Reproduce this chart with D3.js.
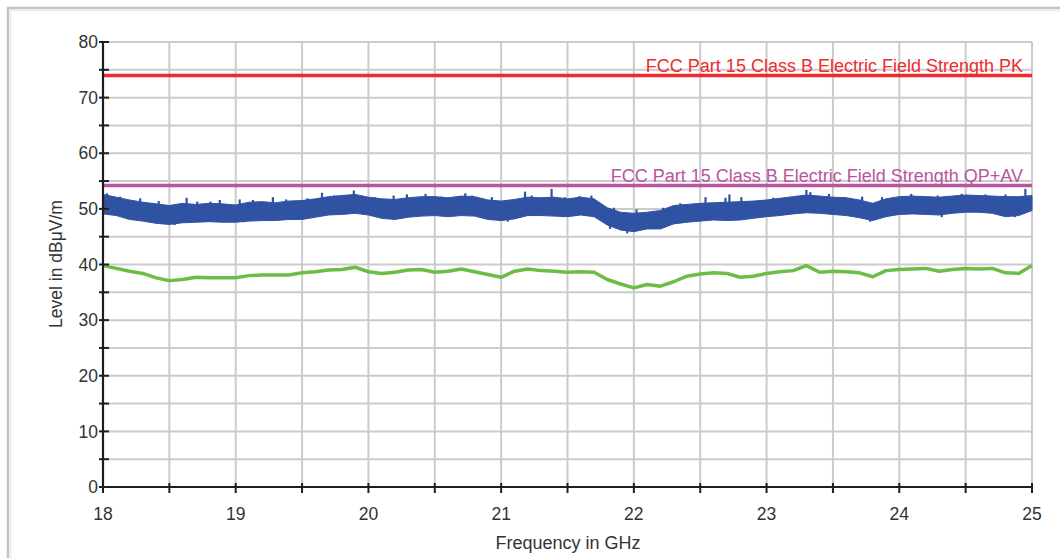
<!DOCTYPE html>
<html>
<head>
<meta charset="utf-8">
<script src="https://cdn.jsdelivr.net/npm/d3@7"></script>
<style>
  html, body { margin: 0; padding: 0; background: #fff; }
  svg { display: block; font-family: "Liberation Sans", Arial, sans-serif; }
</style>
</head>
<body>
<svg id="chart" width="1060" height="558"></svg>
<script>
// Frequency grid of the measured traces (GHz)
const freqs = d3.range(71).map(i => +(18 + i * 0.1).toFixed(1));

// Peak detector trace: lower and upper envelope of the noise band (dBµV/m)
const peakLow = [
  49.1, 48.8, 48.1, 47.8, 47.4, 47.2, 47.5, 47.6, 47.7, 47.6,
  47.6, 47.8, 47.9, 47.9, 48.1, 48.1, 48.5, 48.9, 49.0, 49.2,
  48.9, 48.3, 48.1, 48.5, 48.7, 48.8, 48.6, 48.8, 48.7, 48.1,
  47.9, 48.2, 48.8, 48.8, 48.7, 48.6, 48.9, 48.6, 47.1, 46.2,
  45.9, 46.4, 46.4, 47.3, 47.6, 47.8, 48.0, 47.9, 48.0, 48.3,
  48.6, 48.8, 49.1, 49.3, 49.2, 49.0, 48.8, 48.4, 47.9, 48.6,
  49.0, 49.1, 49.0, 48.9, 49.2, 49.4, 49.4, 49.2, 48.6, 48.8,
  49.7
];
const peakHigh = [
  52.6, 52.1, 51.6, 51.2, 50.9, 50.6, 51.0, 50.8, 51.0, 50.9,
  50.7, 51.2, 51.3, 51.1, 51.4, 51.5, 51.8, 52.2, 52.4, 52.6,
  52.1, 51.8, 51.7, 52.0, 52.2, 52.2, 52.0, 52.3, 52.2, 51.6,
  51.4, 51.7, 52.1, 52.0, 52.1, 51.8, 52.1, 51.8, 50.2, 49.4,
  49.2, 49.4, 49.7, 50.6, 50.8, 51.0, 51.1, 51.2, 51.3, 51.4,
  51.6, 51.9, 52.2, 52.5, 52.3, 52.1, 52.0, 51.6, 51.0, 51.8,
  52.2, 52.3, 52.2, 52.1, 52.3, 52.5, 52.4, 52.3, 52.2, 52.2,
  52.4
];

// Isolated excursions of the peak trace: [frequency, from, to]
const peakSpikes = [
  [18.03, 51.0, 52.8], [18.13, 50.5, 52.2], [18.28, 50.0, 51.9],
  [18.42, 49.5, 51.4], [18.63, 49.5, 52.0], [18.71, 49.5, 51.3],
  [18.81, 49.5, 51.3], [18.88, 49.5, 51.6], [19.03, 49.5, 51.7],
  [19.13, 49.5, 51.6], [19.28, 49.8, 52.1], [19.38, 49.8, 51.7],
  [19.54, 50.0, 51.9], [19.65, 50.5, 52.9], [19.74, 50.5, 52.4],
  [19.89, 51.0, 53.3], [20.05, 50.5, 52.1], [20.19, 50.0, 52.4],
  [20.29, 50.3, 52.6], [20.43, 50.5, 52.7], [20.55, 50.5, 52.2],
  [20.73, 50.5, 52.8], [20.78, 50.5, 52.4], [20.93, 50.0, 52.1],
  [21.18, 50.5, 53.1], [21.23, 50.5, 52.4], [21.38, 50.5, 53.6],
  [21.48, 50.3, 52.1], [21.59, 50.5, 52.3], [21.68, 50.5, 52.4],
  [21.85, 48.0, 50.2], [22.02, 47.5, 49.9], [22.22, 48.0, 50.2],
  [22.35, 49.0, 51.0], [22.54, 49.5, 52.1], [22.69, 49.5, 52.0],
  [22.72, 49.5, 52.6], [22.81, 49.5, 52.1], [23.05, 50.0, 52.0],
  [23.23, 50.5, 52.3], [23.30, 50.8, 53.4], [23.33, 50.8, 53.0],
  [23.47, 50.5, 52.7], [23.59, 50.3, 52.1], [23.72, 50.0, 52.2],
  [23.87, 50.0, 52.1], [24.09, 50.5, 52.7], [24.29, 50.5, 52.4],
  [24.47, 50.8, 52.7], [24.65, 50.8, 52.6], [24.80, 50.5, 52.6],
  [24.95, 50.8, 53.6],
  [18.38, 49.5, 47.9], [18.54, 49.0, 47.1], [19.06, 49.0, 47.6],
  [20.13, 49.5, 48.2], [20.90, 49.5, 48.2], [21.05, 49.5, 47.7],
  [21.82, 48.0, 46.4], [21.95, 47.5, 45.6], [23.78, 49.5, 47.7],
  [24.32, 50.0, 48.5], [24.87, 50.0, 48.5]
];

// Average detector trace (dBµV/m)
const average = [
  39.8, 39.3, 38.8, 38.4, 37.6, 37.1, 37.3, 37.7, 37.6, 37.6,
  37.6, 38.0, 38.1, 38.1, 38.1, 38.5, 38.7, 39.0, 39.1, 39.5,
  38.7, 38.4, 38.6, 39.0, 39.1, 38.6, 38.8, 39.2, 38.7, 38.2,
  37.7, 38.8, 39.2, 38.9, 38.8, 38.6, 38.7, 38.6, 37.3, 36.5,
  35.8, 36.4, 36.1, 36.9, 37.9, 38.3, 38.5, 38.4, 37.7, 37.9,
  38.4, 38.7, 38.9, 39.8, 38.6, 38.8, 38.7, 38.5, 37.8, 38.9,
  39.1, 39.2, 39.3, 38.8, 39.1, 39.3, 39.2, 39.3, 38.5, 38.4,
  39.8
];

// Limit lines
const limits = [
  { name: "FCC Part 15 Class B Electric Field Strength PK", value: 74, color: "#ef2b2d" },
  { name: "FCC Part 15 Class B Electric Field Strength QP+AV", value: 54.2, color: "#b9559f" }
];

const xTicks = [18, 19, 20, 21, 22, 23, 24, 25];
const yTicks = [0, 10, 20, 30, 40, 50, 60, 70, 80];

const svg = d3.select("#chart");
const x = d3.scaleLinear().domain([18, 25]).range([103, 1032]);
const y = d3.scaleLinear().domain([0, 80]).range([487, 42]);

// Outer frame
svg.append("rect").attr("x", 8).attr("y", 8).attr("width", 1070).attr("height", 570)
  .attr("fill", "none").attr("stroke", "#c4c4c4").attr("stroke-width", 2.5);
svg.append("rect").attr("x", 10.5).attr("y", 10.5).attr("width", 1070).attr("height", 570)
  .attr("fill", "none").attr("stroke", "#ececec").attr("stroke-width", 1.5);

// Grid
const grid = svg.append("g").attr("stroke", "#cbcbcb").attr("stroke-width", 2);
grid.selectAll("line.v").data(d3.range(18.5, 25.01, 0.5)).join("line")
  .attr("x1", d => x(d)).attr("x2", d => x(d)).attr("y1", y(80)).attr("y2", y(0));
grid.selectAll("line.h").data(d3.range(5, 80.01, 5)).join("line")
  .attr("x1", x(18)).attr("x2", x(25)).attr("y1", d => y(d)).attr("y2", d => y(d));

// Limit lines with labels
limits.forEach(l => {
  svg.append("line").attr("x1", x(18)).attr("x2", x(25))
    .attr("y1", y(l.value)).attr("y2", y(l.value))
    .attr("stroke", l.color).attr("stroke-width", 3.5);
  svg.append("text").attr("x", 1023).attr("y", y(l.value) - 3.5)
    .attr("text-anchor", "end").attr("fill", l.color)
    .attr("font-size", 18).text(l.name);
});

// Average trace
svg.append("path")
  .datum(freqs.map((f, i) => [f, average[i]]))
  .attr("fill", "none").attr("stroke", "#6cbd45").attr("stroke-width", 3.5)
  .attr("stroke-linejoin", "round")
  .attr("d", d3.line().x(d => x(d[0])).y(d => y(d[1])));

// Peak trace noise band
const blue = "#2f52a3";
svg.append("path")
  .datum(freqs.map((f, i) => [f, peakLow[i], peakHigh[i]]))
  .attr("fill", blue).attr("stroke", blue).attr("stroke-width", 1)
  .attr("d", d3.area().x(d => x(d[0])).y0(d => y(d[1])).y1(d => y(d[2])));
svg.append("g").selectAll("line").data(peakSpikes).join("line")
  .attr("x1", d => x(d[0])).attr("x2", d => x(d[0]))
  .attr("y1", d => y(d[1])).attr("y2", d => y(d[2]))
  .attr("stroke", blue).attr("stroke-width", 2.2);

// Axes
const axisColor = "#1e1e1e";
const yAxis = svg.append("g").attr("transform", `translate(${x(18)},0)`);
yAxis.append("line").attr("y1", y(80) - 1).attr("y2", y(0) + 1)
  .attr("stroke", axisColor).attr("stroke-width", 2.2);
yAxis.selectAll("line.t").data(d3.range(0, 80.01, 5)).join("line")
  .attr("x1", -4).attr("x2", 6).attr("y1", d => y(d)).attr("y2", d => y(d))
  .attr("stroke", axisColor).attr("stroke-width", 2);
yAxis.selectAll("text").data(yTicks).join("text")
  .attr("x", -5).attr("y", d => y(d)).attr("dy", "0.35em")
  .attr("text-anchor", "end").attr("fill", "#333").attr("font-size", 17.5)
  .text(d => d);

const xAxis = svg.append("g").attr("transform", `translate(0,${y(0)})`);
xAxis.append("line").attr("x1", x(18) - 1).attr("x2", x(25) + 1)
  .attr("stroke", axisColor).attr("stroke-width", 2.2);
xAxis.selectAll("line.t").data(d3.range(18, 25.01, 0.5)).join("line")
  .attr("x1", d => x(d)).attr("x2", d => x(d)).attr("y1", -4).attr("y2", 6)
  .attr("stroke", axisColor).attr("stroke-width", 2);
xAxis.selectAll("text").data(xTicks).join("text")
  .attr("x", d => x(d)).attr("y", 27).attr("dy", "0.35em")
  .attr("text-anchor", "middle").attr("fill", "#333").attr("font-size", 17.5)
  .text(d => d);

// Axis titles
svg.append("text").attr("x", 568).attr("y", 549)
  .attr("text-anchor", "middle").attr("fill", "#333").attr("font-size", 18)
  .text("Frequency in GHz");
svg.append("text").attr("transform", "translate(62,264) rotate(-90)")
  .attr("text-anchor", "middle").attr("fill", "#333").attr("font-size", 17.5)
  .text("Level in dBμV/m");
</script>
</body>
</html>
